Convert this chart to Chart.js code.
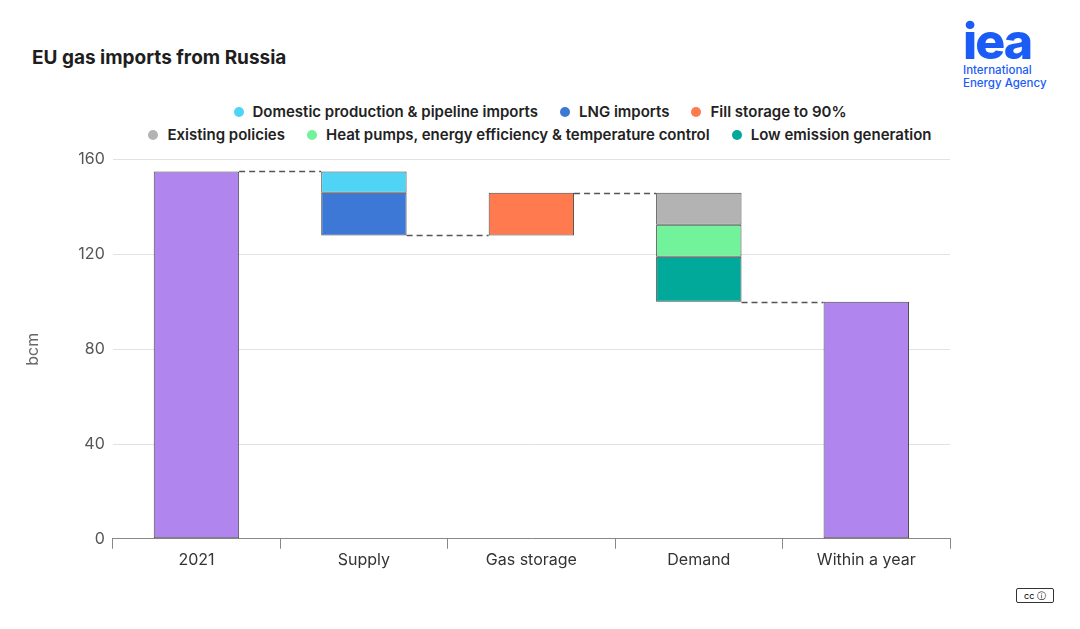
<!DOCTYPE html>
<html>
<head>
<meta charset="utf-8">
<script src="https://cdn.jsdelivr.net/npm/chart.js@4"></script>
<style>
  body { margin:0; width:1080px; height:629px; background:#fff; font-family:Inter, "Noto Sans", sans-serif; position:relative; overflow:hidden; }
  #title { position:absolute; left:32px; top:46px; font-size:19px; font-weight:700; color:#1e1e1e; }
  #logo { position:absolute; left:963px; top:18px; color:#1a5cf5; }
  #logo .big { font-size:50px; font-weight:800; letter-spacing:-2px; line-height:46px; }
  #logo .small { font-size:11.5px; line-height:13px; font-weight:500; }
  #legend { position:absolute; left:100px; width:880px; top:102px; font-size:15px; font-weight:600; color:#222; }
  .row { display:flex; justify-content:center; gap:22px; margin-bottom:4px; }
  .it { display:flex; align-items:center; gap:9px; }
  .dot { width:10px; height:10px; border-radius:50%; }
  #wrap { position:absolute; left:20px; top:142px; width:940px; height:430px; }
  #cc { position:absolute; left:1016px; top:588px; width:36px; height:13px; border:1px solid #333; border-radius:2px; font-size:9px; text-align:center; line-height:13px; }
</style>
</head>
<body>
<div id="title">EU gas imports from Russia</div>
<div id="logo"><div class="big">iea</div><div class="small">International<br>Energy Agency</div></div>
<div id="legend"></div>
<div id="wrap"><canvas id="c"></canvas></div>
<div id="cc">cc ⓘ</div>
<script>
const categories = ['2021', 'Supply', 'Gas storage', 'Demand', 'Within a year'];
const seriesNames = ['Total', 'Domestic production & pipeline imports', 'LNG imports', 'Fill storage to 90%',
  'Existing policies', 'Heat pumps, energy efficiency & temperature control', 'Low emission generation'];
const seriesColors = ['#b085ee', '#4fd4f5', '#3d78d6', '#ff7a4f', '#b3b3b3', '#72f29a', '#00a99a'];
// floating bars [from, to] per category
const totalVals   = [[0, 155], null, null, null, [0, 100]];
const domesticVals = [null, [146, 155], null, null, null];
const lngVals      = [null, [128, 146], null, null, null];
const storageVals  = [null, null, [128, 146], null, null];
const existingVals = [null, null, null, [132.5, 146], null];
const heatVals     = [null, null, null, [119, 132.5], null];
const lowEmVals    = [null, null, null, [100, 119], null];
const connectors = [[0, 1, 155], [1, 2, 128], [2, 3, 146], [3, 4, 100]];
const yTicks = [0, 40, 80, 120, 160];

const allVals = [totalVals, domesticVals, lngVals, storageVals, existingVals, heatVals, lowEmVals];

const leg = document.getElementById('legend');
[[1, 2, 3], [4, 5, 6]].forEach(r => {
  const row = document.createElement('div'); row.className = 'row';
  r.forEach(i => {
    row.innerHTML += '<div class="it"><span class="dot" style="background:' + seriesColors[i] + '"></span>' + seriesNames[i] + '</div>';
  });
  leg.appendChild(row);
});

const connectorPlugin = {
  id: 'connectors',
  afterDatasetsDraw(chart) {
    const ctx = chart.ctx, x = chart.scales.x, y = chart.scales.y;
    const half = chart.getDatasetMeta(0).data[0].width / 2;
    ctx.save();
    ctx.strokeStyle = '#555'; ctx.lineWidth = 1.3; ctx.setLineDash([6, 4]);
    connectors.forEach(([a, b, v]) => {
      const py = Math.round(y.getPixelForValue(v)) + 0.5;
      ctx.beginPath();
      ctx.moveTo(x.getPixelForValue(a) + half, py);
      ctx.lineTo(x.getPixelForValue(b) - half, py);
      ctx.stroke();
    });
    ctx.restore();
  }
};

new Chart(document.getElementById('c'), {
  type: 'bar',
  data: {
    labels: categories,
    datasets: allVals.map((d, i) => ({
      label: seriesNames[i], data: d, backgroundColor: seriesColors[i],
      borderColor: '#4a4a4a', borderWidth: 1, borderSkipped: false,
      barPercentage: 0.51, categoryPercentage: 1
    }))
  },
  options: {
    responsive: true, maintainAspectRatio: false, animation: false,
    layout: { padding: { top: 0, right: 10, left: 0 } },
    plugins: { legend: { display: false }, tooltip: { enabled: false } },
    scales: {
      x: {
        stacked: true,
        grid: { display: true, drawOnChartArea: false, offset: true, tickLength: 10, color: '#888' },
        border: { color: '#888' },
        ticks: { color: '#333', font: { family: 'Inter', size: 16 }, padding: 2 }
      },
      y: {
        stacked: false, min: 0, max: 160,
        afterBuildTicks: s => { s.ticks = yTicks.map(v => ({ value: v })); },
        afterFit: s => { s.width += 23; },
        grid: { color: '#e2e2e2', drawTicks: false },
        border: { display: false },
        ticks: { color: '#555', font: { family: 'Inter', size: 16 }, padding: 8 },
        title: { display: true, text: 'bcm', color: '#666', font: { family: 'Inter', size: 16 } }
      }
    }
  },
  plugins: [connectorPlugin]
});
</script>
</body>
</html>
